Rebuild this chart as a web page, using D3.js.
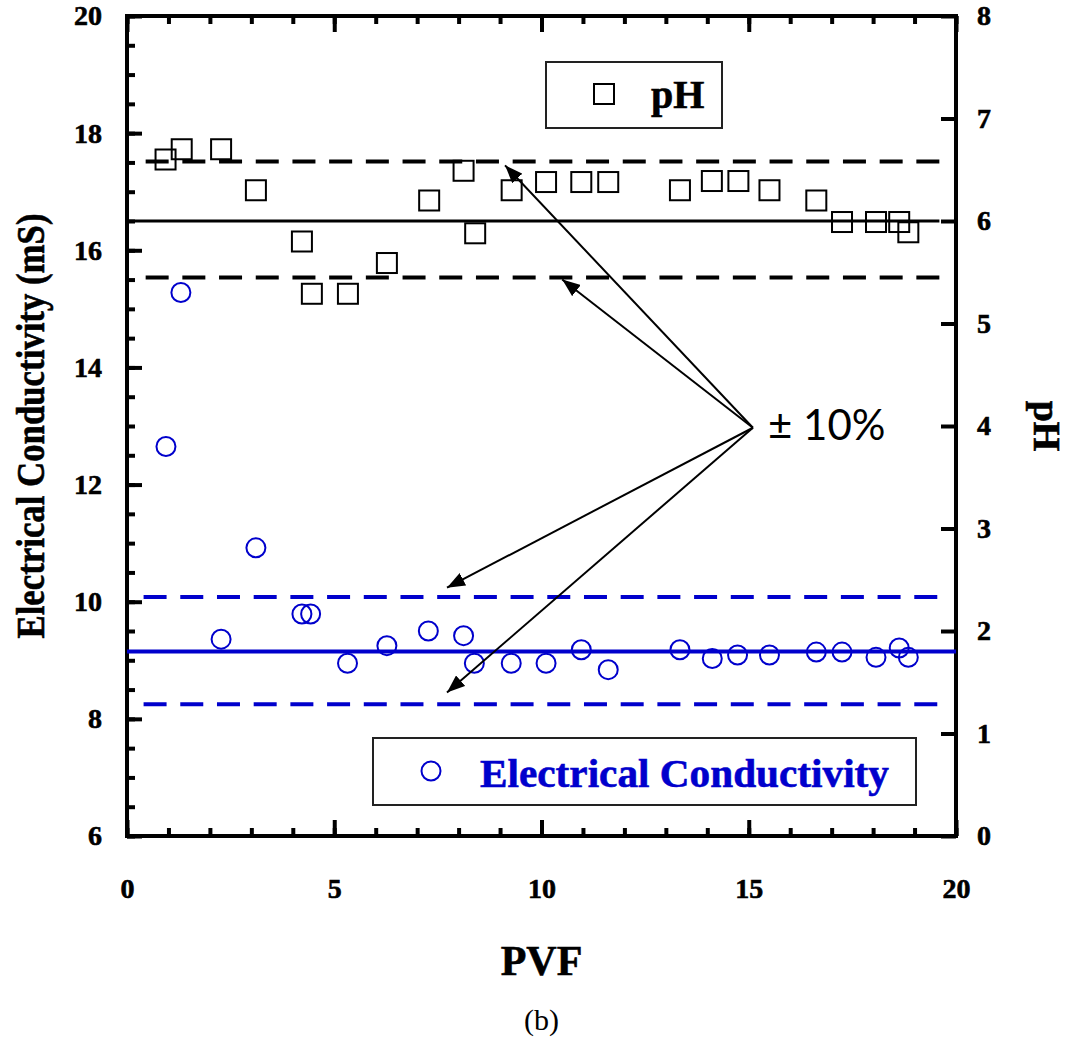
<!DOCTYPE html>
<html>
<head>
<meta charset="utf-8">
<script src="https://cdn.jsdelivr.net/npm/d3@7"></script>
<style>
  body { margin: 0; background: #fff; }
  svg { display: block; }
</style>
</head>
<body>
<div id="chart"></div>
<script>
// PVF values and readings
var pvfPH = [0.93, 1.32, 2.27, 3.11, 4.22, 4.46, 5.33, 6.27, 7.29, 8.12, 8.40, 9.28,
             10.11, 10.96, 11.61, 13.34, 14.11, 14.75, 15.50, 16.63, 17.25, 18.07, 18.63, 18.85];
var pHValues = [6.60, 6.70, 6.70, 6.30, 5.80, 5.29, 5.29, 5.59, 6.20, 6.49, 5.88, 6.30,
                6.38, 6.38, 6.38, 6.30, 6.39, 6.39, 6.30, 6.20, 5.99, 5.99, 5.99, 5.89];

var pvfEC = [0.94, 1.30, 2.27, 3.11, 4.22, 4.43, 5.32, 6.27, 7.27, 8.12, 8.38, 9.27,
             10.11, 10.96, 11.61, 13.34, 14.12, 14.73, 15.50, 16.63, 17.25, 18.07, 18.63, 18.85];
var ecValues = [12.65, 15.28, 9.36, 10.92, 9.79, 9.79, 8.95, 9.25, 9.50, 9.42, 8.95, 8.95,
                8.95, 9.18, 8.84, 9.18, 9.03, 9.09, 9.09, 9.14, 9.14, 9.05, 9.21, 9.05];

// mean and +/-10% bands
var pHBand = [6.00, 6.58, 5.45];      // mean, upper, lower
var ecBand = [9.15, 10.08, 8.25];

// tick labels
var xTicks = [0, 5, 10, 15, 20];
var ecTicks = [6, 8, 10, 12, 14, 16, 18, 20];
var pHTicks = [0, 1, 2, 3, 4, 5, 6, 7, 8];

// arrow annotation (PVF, EC units): origin, then the four tips
var arrowFrom = [15.1, 12.97];
var arrowTips = [[9.12, 17.45], [10.50, 15.50], [7.72, 10.24], [7.72, 8.45]];

var W = 1069, H = 1041;
var serif = "'Liberation Serif', 'Times New Roman', serif";
var blue = "#0000cc";

var svg = d3.select("#chart").append("svg")
    .attr("width", W)
    .attr("height", H);

var x = d3.scaleLinear().domain([0, 20]).range([127, 956]);
var yEC = d3.scaleLinear().domain([6, 20]).range([836, 16]);
var yPH = d3.scaleLinear().domain([0, 8]).range([836, 16]);

// minor ticks first
svg.append("g").attr("transform", "translate(127,0)")
    .call(d3.axisLeft(yEC).tickValues(d3.range(6, 20.01, 0.5)).tickSize(-8).tickFormat(""));
svg.append("g").attr("transform", "translate(0,836)")
    .call(d3.axisBottom(x).tickValues(d3.range(0, 20.01, 1)).tickSize(-8).tickFormat(""));
svg.append("g").attr("transform", "translate(0,16)")
    .call(d3.axisTop(x).tickValues(d3.range(0, 20.01, 1)).tickSize(-8).tickFormat(""));

// major ticks + labels
svg.append("g").attr("transform", "translate(127,0)")
    .call(d3.axisLeft(yEC).tickValues(ecTicks).tickSize(-15).tickPadding(25).tickFormat(d3.format("d")));
svg.append("g").attr("transform", "translate(956,0)")
    .call(d3.axisRight(yPH).tickValues(pHTicks).tickSize(-15).tickPadding(21).tickFormat(d3.format("d")));
svg.append("g").attr("transform", "translate(0,836)")
    .call(d3.axisBottom(x).tickValues(xTicks).tickSize(-16).tickPadding(42).tickFormat(d3.format("d")));
svg.append("g").attr("transform", "translate(0,16)")
    .call(d3.axisTop(x).tickValues(xTicks).tickSize(-16).tickFormat(""));

svg.selectAll(".domain").remove();
svg.selectAll(".tick line").attr("stroke", "#000").attr("stroke-width", 4);
svg.selectAll(".tick text")
    .attr("font-family", serif)
    .attr("font-weight", "bold")
    .attr("font-size", 28)
    .attr("fill", "#000")
    .attr("stroke", "#000")
    .attr("stroke-width", 0.6);

// frame
svg.append("rect")
    .attr("x", x(0)).attr("y", yEC(20))
    .attr("width", x(20) - x(0)).attr("height", yEC(6) - yEC(20))
    .attr("fill", "none").attr("stroke", "#000").attr("stroke-width", 4);

// mean and band lines
svg.append("line")
    .attr("x1", x(0)).attr("x2", x(19.6))
    .attr("y1", yPH(pHBand[0])).attr("y2", yPH(pHBand[0]))
    .attr("stroke", "#000").attr("stroke-width", 3);
[pHBand[1], pHBand[2]].forEach(function (v) {
  svg.append("line")
      .attr("x1", x(0.45)).attr("x2", x(19.7))
      .attr("y1", yPH(v)).attr("y2", yPH(v))
      .attr("stroke", "#000").attr("stroke-width", 4)
      .attr("stroke-dasharray", "23,13.7");
});
svg.append("line")
    .attr("x1", x(0)).attr("x2", x(20))
    .attr("y1", yEC(ecBand[0])).attr("y2", yEC(ecBand[0]))
    .attr("stroke", blue).attr("stroke-width", 4);
[ecBand[1], ecBand[2]].forEach(function (v) {
  svg.append("line")
      .attr("x1", x(0.4)).attr("x2", x(19.67))
      .attr("y1", yEC(v)).attr("y2", yEC(v))
      .attr("stroke", blue).attr("stroke-width", 4)
      .attr("stroke-dasharray", "23,13.7");
});

// pH squares
svg.append("g").selectAll("rect")
    .data(pvfPH)
    .enter().append("rect")
    .attr("x", function (d) { return x(d) - 10; })
    .attr("y", function (d, i) { return yPH(pHValues[i]) - 10; })
    .attr("width", 20).attr("height", 20)
    .attr("fill", "none").attr("stroke", "#000").attr("stroke-width", 2);

// EC circles
svg.append("g").selectAll("circle")
    .data(pvfEC)
    .enter().append("circle")
    .attr("cx", function (d) { return x(d); })
    .attr("cy", function (d, i) { return yEC(ecValues[i]); })
    .attr("r", 9.5)
    .attr("fill", "none").attr("stroke", blue).attr("stroke-width", 2);

// arrows
svg.append("defs").append("marker")
    .attr("id", "head")
    .attr("viewBox", "0 0 18 14")
    .attr("refX", 18).attr("refY", 7)
    .attr("markerWidth", 18).attr("markerHeight", 14)
    .attr("markerUnits", "userSpaceOnUse")
    .attr("orient", "auto")
  .append("path")
    .attr("d", "M0,0 L18,7 L0,14 Z")
    .attr("fill", "#000");

arrowTips.forEach(function (t) {
  svg.append("line")
      .attr("x1", x(arrowFrom[0])).attr("y1", yEC(arrowFrom[1]))
      .attr("x2", x(t[0])).attr("y2", yEC(t[1]))
      .attr("stroke", "#000").attr("stroke-width", 2)
      .attr("marker-end", "url(#head)");
});

svg.append("text")
    .attr("x", 768).attr("y", yEC(arrowFrom[1]) + 12)
    .attr("font-family", "Lato, 'Open Sans', sans-serif")
    .attr("font-size", 42)
    .text("± 10%");

// legends
svg.append("rect")
    .attr("x", 546).attr("y", 62).attr("width", 176).attr("height", 66)
    .attr("fill", "#fff").attr("stroke", "#222").attr("stroke-width", 2);
svg.append("rect")
    .attr("x", 594).attr("y", 84).attr("width", 20).attr("height", 20)
    .attr("fill", "none").attr("stroke", "#000").attr("stroke-width", 2);
svg.append("text")
    .attr("x", 651).attr("y", 108)
    .attr("font-family", serif).attr("font-weight", "bold").attr("font-size", 40)
    .attr("stroke", "#000").attr("stroke-width", 0.6)
    .text("pH");

svg.append("rect")
    .attr("x", 373).attr("y", 738).attr("width", 543).attr("height", 67)
    .attr("fill", "#fff").attr("stroke", "#222").attr("stroke-width", 2);
svg.append("circle")
    .attr("cx", 431).attr("cy", 771).attr("r", 9.5)
    .attr("fill", "none").attr("stroke", blue).attr("stroke-width", 2);
svg.append("text")
    .attr("x", 480).attr("y", 787)
    .attr("font-family", serif).attr("font-weight", "bold").attr("font-size", 41)
    .attr("fill", blue).attr("stroke", blue).attr("stroke-width", 0.6)
    .attr("textLength", 409).attr("lengthAdjust", "spacingAndGlyphs")
    .text("Electrical Conductivity");

// axis titles
svg.append("text")
    .attr("transform", "translate(44," + (yEC(13)) + ") rotate(-90)")
    .attr("text-anchor", "middle")
    .attr("font-family", serif).attr("font-weight", "bold").attr("font-size", 40)
    .attr("stroke", "#000").attr("stroke-width", 0.6)
    .attr("textLength", 425).attr("lengthAdjust", "spacingAndGlyphs")
    .text("Electrical Conductivity (mS)");

svg.append("text")
    .attr("transform", "translate(1034," + yPH(4) + ") rotate(90)")
    .attr("text-anchor", "middle")
    .attr("font-family", serif).attr("font-weight", "bold").attr("font-size", 38)
    .attr("stroke", "#000").attr("stroke-width", 0.6)
    .text("pH");

svg.append("text")
    .attr("x", x(10)).attr("y", 975)
    .attr("text-anchor", "middle")
    .attr("font-family", serif).attr("font-weight", "bold").attr("font-size", 42)
    .attr("stroke", "#000").attr("stroke-width", 0.6)
    .text("PVF");

svg.append("text")
    .attr("x", x(10)).attr("y", 1030)
    .attr("text-anchor", "middle")
    .attr("font-family", serif).attr("font-size", 30)
    .text("(b)");
</script>
</body>
</html>
